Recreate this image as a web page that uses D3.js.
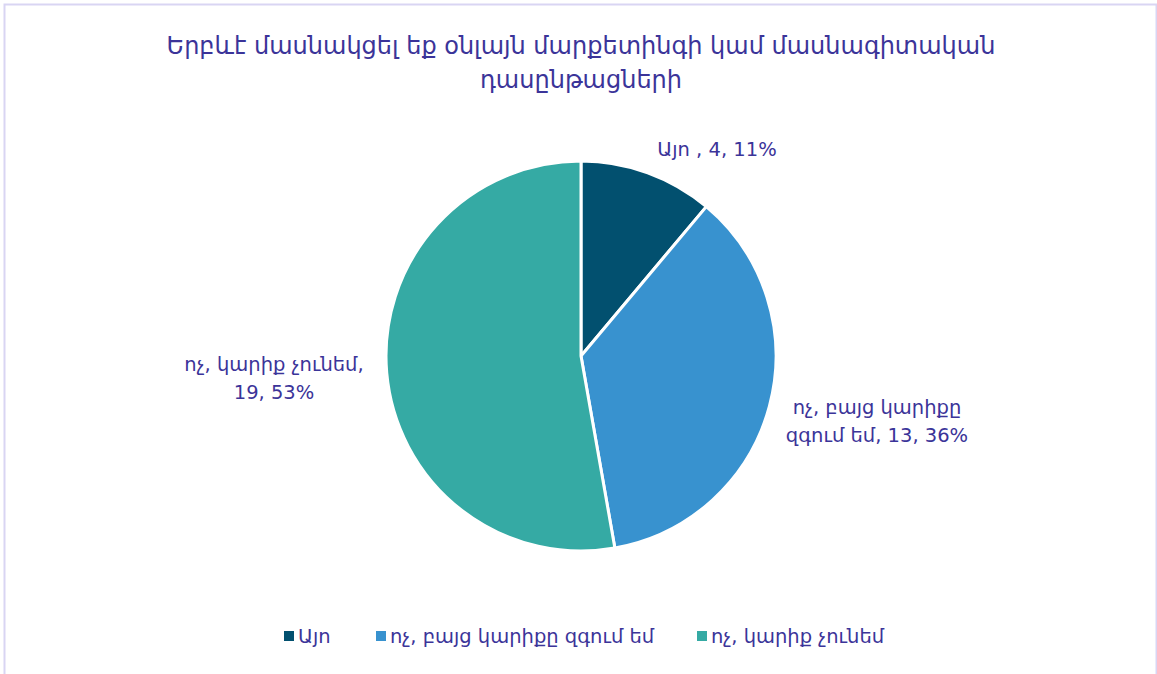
<!DOCTYPE html>
<html>
<head>
<meta charset="utf-8">
<script src="https://cdn.jsdelivr.net/npm/d3@7"></script>
<style>
  html, body { margin: 0; padding: 0; background: #fff; }
  svg { display: block; }
  text { font-family: "DejaVu Sans", "Noto Sans", sans-serif; }
</style>
</head>
<body>
<svg id="chart" width="1157" height="674"></svg>
<script>
// Survey answers: have you ever taken online marketing or professional courses
const categories = ["Այո", "ոչ, բայց կարիքը զգում եմ", "ոչ, կարիք չունեմ"];
const counts = [4, 13, 19];
const percents = [11, 36, 53];
const colors = ["#02506f", "#3892cf", "#35aaa4"];
const titleLines = ["Երբևէ մասնակցել եք օնլայն մարքետինգի կամ մասնագիտական", "դասընթացների"];
// data label lines per slice
const labelLines = [
  ["Այո , 4, 11%"],
  ["ոչ, բայց կարիքը", "զգում եմ, 13, 36%"],
  ["ոչ, կարիք չունեմ,", "19, 53%"]
];

const svg = d3.select("#chart");
const W = 1157, H = 674;
const textColor = "#3b3499";

// chart frame
svg.append("rect")
  .attr("x", 4.5).attr("y", 4.5)
  .attr("width", W - 5).attr("height", H + 10)
  .attr("fill", "#fff")
  .attr("stroke", "#d9d5f3").attr("stroke-width", 2);

// title
svg.append("g").selectAll("text")
  .data(titleLines)
  .join("text")
  .attr("x", 581)
  .attr("y", (d, i) => 54 + i * 34)
  .attr("text-anchor", "middle")
  .attr("fill", textColor)
  .attr("font-size", 24)
  .text(d => d);

// pie
const cx = 581, cy = 356, r = 195;
const data = categories.map((c, i) => ({ name: c, value: counts[i], pct: percents[i], color: colors[i], lines: labelLines[i] }));
const pie = d3.pie().value(d => d.value).sort(null);
const arc = d3.arc().innerRadius(0).outerRadius(r);
const arcs = pie(data);

const g = svg.append("g").attr("transform", `translate(${cx},${cy})`);
g.selectAll("path")
  .data(arcs)
  .join("path")
  .attr("d", arc)
  .attr("fill", d => d.data.color)
  .attr("stroke", "#fff")
  .attr("stroke-width", 3)
  .attr("stroke-linejoin", "round");

// data labels placed outside each slice
const labelPos = [
  { x: 717, y: 156 },
  { x: 877, y: 414 },
  { x: 274, y: 371 }
];
const lg = svg.append("g");
arcs.forEach((a, i) => {
  const p = labelPos[i];
  const t = lg.append("text")
    .attr("x", p.x).attr("y", p.y)
    .attr("text-anchor", "middle")
    .attr("fill", textColor)
    .attr("font-size", 19.5);
  a.data.lines.forEach((line, j) => {
    t.append("tspan").attr("x", p.x).attr("dy", j === 0 ? 0 : 28).text(line);
  });
});

// legend
const legendX = [284, 376, 697];
const legend = svg.append("g");
data.forEach((d, i) => {
  legend.append("rect")
    .attr("x", legendX[i]).attr("y", 631)
    .attr("width", 10).attr("height", 10)
    .attr("fill", d.color);
  legend.append("text")
    .attr("x", legendX[i] + 14).attr("y", 643)
    .attr("fill", textColor)
    .attr("font-size", 19.5)
    .text(d.name);
});
</script>
</body>
</html>
